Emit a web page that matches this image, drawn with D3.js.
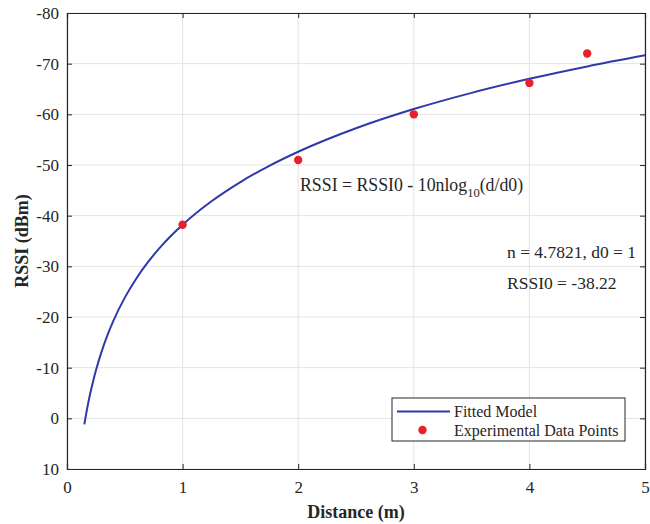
<!DOCTYPE html>
<html>
<head>
<meta charset="utf-8">
<script src="https://cdn.jsdelivr.net/npm/d3@7"></script>
<style>
  html, body { margin: 0; padding: 0; background: #fff; }
  svg { display: block; }
  text { font-family: "Liberation Serif", "Times New Roman", serif; fill: #262626; }
</style>
</head>
<body>
<svg id="chart" width="650" height="524"></svg>
<script>
// ---- data ----
const fitDistance = [0.15, 0.175, 0.2, 0.225, 0.25, 0.3, 0.35, 0.4, 0.5, 0.6, 0.7, 0.8, 0.9, 1.0, 1.25, 1.5, 1.75, 2.0, 2.5, 3.0, 3.5, 4.0, 4.5, 5.0];
const fitRSSI     = [1.18, -2.02, -4.79, -7.24, -9.43, -13.22, -16.42, -19.19, -23.82, -27.61, -30.81, -33.59, -36.03, -38.22, -42.85, -46.64, -49.84, -52.62, -57.25, -61.04, -64.24, -67.01, -69.46, -71.65];
const expDistance = [1, 2, 3, 4, 4.5];
const expRSSI     = [-38.2, -51, -60, -66.2, -72];
const xTicks = [0, 1, 2, 3, 4, 5];
const yTicks = [-80, -70, -60, -50, -40, -30, -20, -10, 0, 10];

// ---- layout ----
const L = 67, T = 13, R = 645, B = 469;
const svg = d3.select("#chart");
const x = d3.scaleLinear().domain([0, 5]).range([L, R]);
const y = d3.scaleLinear().domain([-80, 10]).range([T, B]);
const fmt = d => String(d); // plain hyphen minus like the reference

// grid
const g = svg.append("g");
g.selectAll(".gx").data(xTicks).join("line")
  .attr("x1", d => x(d)).attr("x2", d => x(d)).attr("y1", T).attr("y2", B)
  .attr("stroke", "#e3e3e3").attr("stroke-width", 1);
g.selectAll(".gy").data(yTicks).join("line")
  .attr("y1", d => y(d)).attr("y2", d => y(d)).attr("x1", L).attr("x2", R)
  .attr("stroke", "#e3e3e3").attr("stroke-width", 1);

// axes (MATLAB box style, ticks inside)
const tk = 5;
const axB = svg.append("g").attr("transform", `translate(0,${B})`)
  .call(d3.axisBottom(x).tickValues(xTicks).tickSize(-tk).tickPadding(12).tickFormat(fmt));
const axT = svg.append("g").attr("transform", `translate(0,${T})`)
  .call(d3.axisTop(x).tickValues(xTicks).tickSize(-tk).tickFormat(""));
const axL = svg.append("g").attr("transform", `translate(${L},0)`)
  .call(d3.axisLeft(y).tickValues(yTicks).tickSize(-tk).tickPadding(8).tickFormat(fmt));
const axR = svg.append("g").attr("transform", `translate(${R},0)`)
  .call(d3.axisRight(y).tickValues(yTicks).tickSize(-tk).tickFormat(""));
[axB, axT, axL, axR].forEach(a => {
  a.select(".domain").attr("stroke", "#262626").attr("stroke-width", 1.2);
  a.selectAll(".tick line").attr("stroke", "#262626");
  a.selectAll(".tick text").attr("font-family", "Liberation Serif").attr("font-size", 17).attr("fill", "#262626");
});
axB.selectAll(".tick text").attr("dy", "0.71em");

// axis titles
svg.append("text").attr("x", (L + R) / 2).attr("y", 518).attr("text-anchor", "middle")
  .attr("font-size", 18).attr("font-weight", "bold").text("Distance (m)");
svg.append("text").attr("transform", `translate(28,${(T + B) / 2}) rotate(-90)`)
  .attr("text-anchor", "middle").attr("font-size", 18).attr("font-weight", "bold").text("RSSI (dBm)");

// fitted curve
const fitData = fitDistance.map((d, i) => [d, fitRSSI[i]]);
svg.append("path").datum(fitData)
  .attr("fill", "none").attr("stroke", "#2e3aa8").attr("stroke-width", 2)
  .attr("d", d3.line().x(d => x(d[0])).y(d => y(d[1])).curve(d3.curveMonotoneX));

// experimental points
svg.selectAll(".pt").data(expDistance.map((d, i) => [d, expRSSI[i]])).join("circle")
  .attr("cx", d => x(d[0])).attr("cy", d => y(d[1])).attr("r", 4.2).attr("fill", "#e8202a");

// annotations
const eq = svg.append("text").attr("x", 300).attr("y", 191).attr("font-size", 17.8);
eq.append("tspan").text("RSSI = RSSI0 - 10nlog");
eq.append("tspan").attr("font-size", 12.5).attr("dy", 6).text("10");
eq.append("tspan").attr("dy", -6).text("(d/d0)");
svg.append("text").attr("x", 507).attr("y", 258).attr("font-size", 17.5).text("n = 4.7821, d0 = 1");
svg.append("text").attr("x", 507).attr("y", 289).attr("font-size", 17.5).text("RSSI0 = -38.22");

// legend
const lg = svg.append("g");
lg.append("rect").attr("x", 392).attr("y", 398).attr("width", 233).attr("height", 43)
  .attr("fill", "#fff").attr("stroke", "#262626").attr("stroke-width", 1);
lg.append("line").attr("x1", 397).attr("x2", 450).attr("y1", 411.5).attr("y2", 411.5)
  .attr("stroke", "#2e3aa8").attr("stroke-width", 2);
lg.append("circle").attr("cx", 422.5).attr("cy", 430).attr("r", 4.2).attr("fill", "#e8202a");
lg.append("text").attr("x", 454).attr("y", 417).attr("font-size", 16).text("Fitted Model");
lg.append("text").attr("x", 454).attr("y", 436).attr("font-size", 16).text("Experimental Data Points");
</script>
</body>
</html>
